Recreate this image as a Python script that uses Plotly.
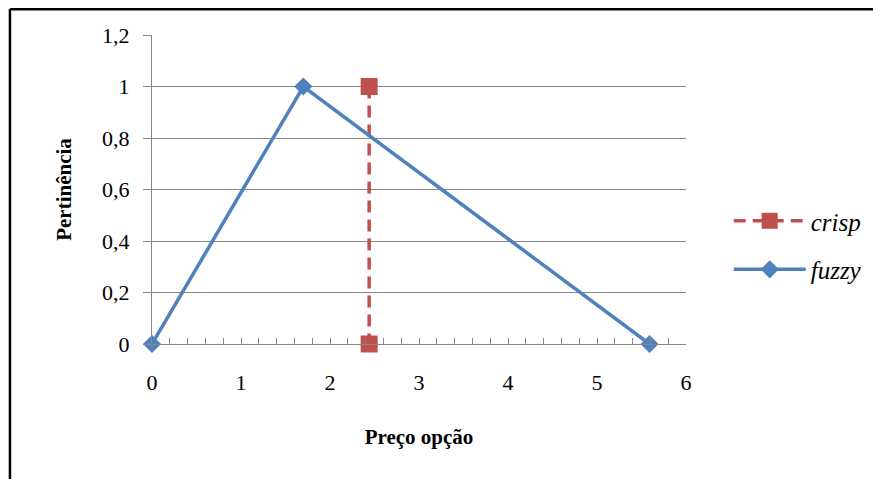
import plotly.graph_objects as go

fuzzy_x = [0, 1.7, 5.59]
fuzzy_y = [0, 1, 0]
crisp_x = [2.44, 2.44]
crisp_y = [1, 0]
x_ticks = [0, 1, 2, 3, 4, 5, 6]
y_ticks = [0, 0.2, 0.4, 0.6, 0.8, 1, 1.2]
y_labels = ["0", "0,2", "0,4", "0,6", "0,8", "1", "1,2"]

BLUE = "#4F81BD"
RED = "#C0504D"
GRID = "#868686"
FONT = "Liberation Serif, Times New Roman, serif"

fig = go.Figure()
fig.add_trace(go.Scatter(
    x=crisp_x, y=crisp_y, mode="lines+markers", name="<i>crisp</i>",
    legendgroup="a", cliponaxis=False,
    line=dict(color=RED, width=3.5, dash="12px,7px"),
    marker=dict(symbol="square", size=17, color=RED),
))
fig.add_trace(go.Scatter(
    x=fuzzy_x, y=fuzzy_y, mode="lines+markers", name="<i>fuzzy</i>",
    legendgroup="b", cliponaxis=False,
    line=dict(color=BLUE, width=3.5),
    marker=dict(symbol="diamond", size=14, color=BLUE),
))

tickfont = dict(family=FONT, size=22, color="black")

fig.update_layout(
    width=873, height=471,
    margin=dict(l=144, r=195, t=27, b=135),
    paper_bgcolor="white", plot_bgcolor="white",
    font=dict(family=FONT, size=20, color="black"),
    showlegend=True,
    legend=dict(x=1.08, xanchor="left", y=0.32, yanchor="middle",
                font=dict(family=FONT, size=25, color="black"),
                traceorder="grouped", tracegroupgap=13, itemwidth=72,
                bgcolor="rgba(0,0,0,0)"),
    xaxis=dict(
        range=[0, 6], tickvals=x_ticks, ticktext=[str(v) for v in x_ticks],
        tickfont=tickfont,
        showgrid=False, zeroline=False, showline=True, linecolor=GRID, linewidth=1,
        ticks="inside", ticklen=6, tickcolor=GRID,
        minor=dict(ticks="inside", dtick=0.2, ticklen=6, tickcolor=GRID, showgrid=False),
        ticklabelstandoff=19,
        title=dict(text="<b>Preço opção</b>", font=dict(family=FONT, size=21), standoff=34),
    ),
    yaxis=dict(
        range=[0, 1.2], tickvals=y_ticks, ticktext=y_labels,
        tickfont=tickfont,
        showgrid=True, gridcolor=GRID, gridwidth=1, zeroline=False,
        showline=True, linecolor=GRID, linewidth=1,
        ticks="outside", ticklen=8, tickcolor=GRID,
        ticklabelstandoff=9,
        title=dict(text="<b>Pertinência</b>", font=dict(family=FONT, size=21), standoff=24),
    ),
)

# outer frame (left and top edges visible)
fig.add_shape(type="line", xref="paper", yref="paper", x0=-0.266, x1=1.4, y0=1.084, y1=1.084,
              line=dict(color="black", width=3))
fig.add_shape(type="line", xref="paper", yref="paper", x0=-0.266, x1=-0.266, y0=1.084, y1=-0.45,
              line=dict(color="black", width=2.5))

fig.write_html("out.html")
